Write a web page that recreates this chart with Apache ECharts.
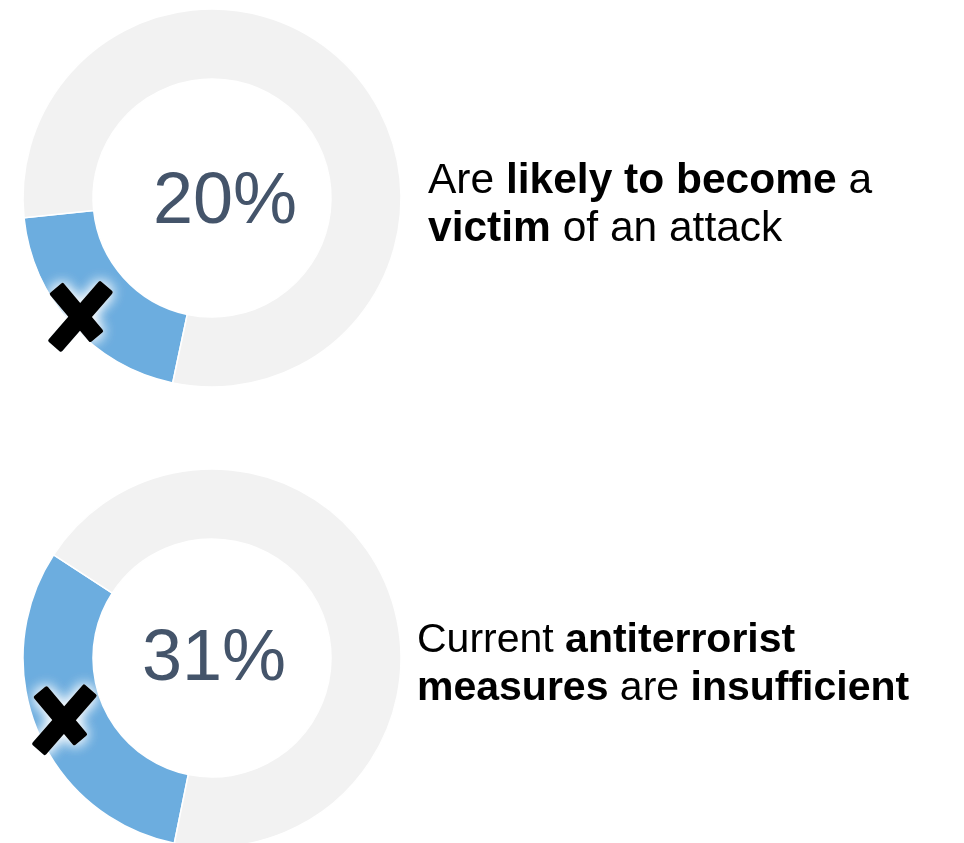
<!DOCTYPE html>
<html>
<head>
<meta charset="utf-8">
<script src="https://cdn.jsdelivr.net/npm/echarts@6/dist/echarts.min.js"></script>
<style>
  html, body { margin: 0; padding: 0; background: #fff; }
  #chart { width: 964px; height: 843px; }
</style>
</head>
<body>
<div id="chart"></div>
<script>
// survey answers, share of respondents (%)
const shares = [20, 31]
// statement text, {b|...} marks the bold parts
const statements = [
  'Are {b|likely to become} a\n{b|victim} of an attack',
  'Current {b|antiterrorist}\n{b|measures} are {b|insufficient}'
]
const startAngles = [258, 258.5]

const centers = [[212, 198], [212, 658]]
const ringRadius = [119, 189]
const crossRadius = [177, 160]
const textSize = [42.5, 41]
const BLUE = '#6caddf'
const GREY = '#f2f2f2'
const FONT = '"Liberation Sans", Arial, sans-serif'

const chart = echarts.init(document.getElementById('chart'), null, { renderer: 'canvas' })

const series = shares.map((v, i) => ({
  type: 'pie',
  center: centers[i],
  radius: ringRadius,
  startAngle: startAngles[i],
  clockwise: true,
  silent: true,
  z: 1,
  label: { show: false },
  labelLine: { show: false },
  itemStyle: { borderColor: '#fff', borderWidth: 1.5 },
  data: [
    { value: v, itemStyle: { color: BLUE } },
    { value: 100 - v, itemStyle: { color: GREY } }
  ]
}))

// two bars of the X: [rotation deg, offset x, offset y, length]
const bars = [[-50, -4, -4, 64], [49, 0, 0, 80]]

function cross(i) {
  // place the X in the middle of the blue slice
  const mid = (startAngles[i] - shares[i] * 3.6 / 2) * Math.PI / 180
  const cx = centers[i][0] + crossRadius[i] * Math.cos(mid)
  const cy = centers[i][1] - crossRadius[i] * Math.sin(mid)
  const rect = (b, style, z) => ({
    type: 'rect', z: z, x: cx + b[1], y: cy + b[2],
    rotation: b[0] * Math.PI / 180,
    shape: { x: -b[3] / 2, y: -9, width: b[3], height: 18, r: 2 },
    style: style
  })
  const glow = { fill: 'rgba(230,242,252,0.9)', shadowColor: 'rgba(255,255,255,1)', shadowBlur: 14 }
  const ink = { fill: '#000' }
  return bars.map(b => rect(b, glow, 99))
    .concat(bars.map(b => rect(b, glow, 99)))
    .concat(bars.map(b => rect(b, ink, 100)))
}

const pctPos = [[225, 203], [214, 660]]
const textPos = [[428, 157], [417, 617]]

let graphics = []
shares.forEach((v, i) => {
  graphics = graphics.concat(cross(i))
  graphics.push({
    type: 'text',
    z: 100,
    x: pctPos[i][0],
    y: pctPos[i][1],
    style: {
      text: v + '%',
      font: '72px ' + FONT,
      fill: '#44546a',
      align: 'center',
      verticalAlign: 'middle'
    }
  })
  graphics.push({
    type: 'text',
    z: 100,
    x: textPos[i][0],
    y: textPos[i][1],
    style: {
      text: statements[i],
      font: textSize[i] + 'px ' + FONT,
      fill: '#000',
      lineHeight: 48,
      rich: {
        b: { fontWeight: 'bold', fontSize: textSize[i], fontFamily: FONT, lineHeight: 48, fill: '#000' }
      }
    }
  })
})

chart.setOption({
  backgroundColor: '#fff',
  animation: false,
  series: series,
  graphic: { elements: graphics }
})
</script>
</body>
</html>
